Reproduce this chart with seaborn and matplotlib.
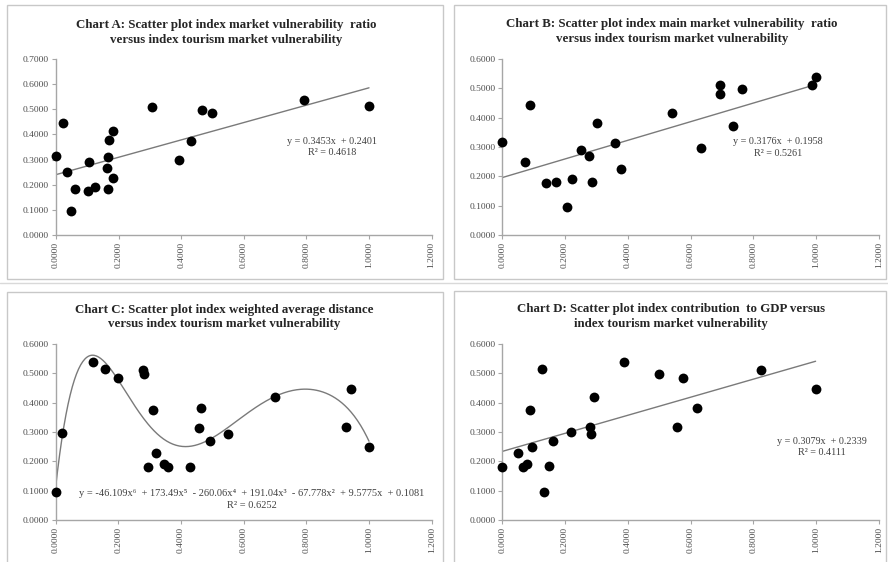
import numpy as np
import pandas as pd
import matplotlib
matplotlib.use("Agg")
import matplotlib.pyplot as plt
import seaborn as sns
from matplotlib.patches import Rectangle

# Values (x = panel index, y = tourism market vulnerability)
a_x = [0.000, 0.021, 0.036, 0.047, 0.062, 0.101, 0.106, 0.126, 0.162, 0.167, 0.167,
       0.170, 0.183, 0.181, 0.307, 0.392, 0.430, 0.467, 0.499, 0.792, 1.000]
a_y = [0.316, 0.444, 0.252, 0.094, 0.183, 0.176, 0.290, 0.190, 0.268, 0.182, 0.312,
       0.379, 0.415, 0.228, 0.511, 0.297, 0.373, 0.496, 0.484, 0.536, 0.513]

b_x = [0.000, 0.072, 0.087, 0.139, 0.171, 0.205, 0.222, 0.250, 0.276, 0.285, 0.301,
       0.359, 0.379, 0.539, 0.633, 0.693, 0.695, 0.734, 0.763, 0.986, 0.998]
b_y = [0.316, 0.250, 0.443, 0.178, 0.181, 0.095, 0.190, 0.291, 0.269, 0.182, 0.381,
       0.313, 0.226, 0.417, 0.298, 0.510, 0.481, 0.373, 0.497, 0.513, 0.539]

c_x = [0.000, 0.020, 0.119, 0.158, 0.200, 0.280, 0.283, 0.310, 0.294, 0.320, 0.347,
       0.358, 0.429, 0.463, 0.458, 0.493, 0.549, 0.700, 0.943, 0.928, 1.000]
c_y = [0.097, 0.298, 0.539, 0.514, 0.483, 0.511, 0.497, 0.374, 0.182, 0.227, 0.191,
       0.182, 0.181, 0.381, 0.315, 0.270, 0.292, 0.419, 0.445, 0.317, 0.250]

d_x = [0.000, 0.051, 0.067, 0.078, 0.087, 0.094, 0.125, 0.133, 0.149, 0.161, 0.219,
       0.279, 0.282, 0.291, 0.388, 0.500, 0.557, 0.575, 0.621, 0.825, 0.998]
d_y = [0.182, 0.227, 0.181, 0.192, 0.374, 0.250, 0.514, 0.097, 0.183, 0.269, 0.299,
       0.316, 0.292, 0.418, 0.539, 0.497, 0.317, 0.483, 0.383, 0.513, 0.445]

# trendline coefficients as printed on the charts (highest power first)
a_coef = [0.3453, 0.2401]
b_coef = [0.3176, 0.1958]
c_coef = [-46.109, 173.49, -260.06, 191.04, -67.778, 9.5775, 0.1081]
d_coef = [0.3079, 0.2339]

a_eq = "y = 0.3453x  + 0.2401\nR² = 0.4618"
b_eq = "y = 0.3176x  + 0.1958\nR² = 0.5261"
c_eq = ("y = -46.109x⁶  + 173.49x⁵  - 260.06x⁴  + 191.04x³  - 67.778x²  + 9.5775x  + 0.1081\n"
        "R² = 0.6252")
d_eq = "y = 0.3079x  + 0.2339\nR² = 0.4111"

titles = [
    "Chart A: Scatter plot index market vulnerability  ratio\nversus index tourism market vulnerability",
    "Chart B: Scatter plot index main market vulnerability  ratio\nversus index tourism market vulnerability",
    "Chart C: Scatter plot index weighted average distance\nversus index tourism market vulnerability",
    "Chart D: Scatter plot index contribution  to GDP versus\nindex tourism market vulnerability",
]

sns.set_style("white")
serif = ["Liberation Serif", "DejaVu Serif"]
plt.rcParams["font.family"] = serif

W, H = 888, 562
fig = plt.figure(figsize=(W / 100, H / 100), dpi=100)


def fx(px):
    return px / W


def fy(py):
    return 1 - py / H


# chart area borders and separator line
for x0, y0, x1, y1 in [(7, 5, 443, 279), (454, 5, 886, 279), (7, 292, 443, 575), (454, 291, 886, 575)]:
    fig.patches.append(Rectangle((fx(x0), fy(y1)), fx(x1 - x0), (y1 - y0) / H,
                                 transform=fig.transFigure, fill=False,
                                 edgecolor="#c8c8c8", linewidth=1.0))
fig.add_artist(plt.Line2D([0, 1], [fy(283), fy(283)], transform=fig.transFigure,
                          color="#d9d9d9", linewidth=1.0))

# plot areas in pixels: (x at 0, x at 1.2, y at 0, y at top)
panels = [
    (a_x, a_y, a_coef, a_eq, 0.7, (56, 431.6, 235, 59), (0.881, 0.35), (226, 32.5), 7.3),
    (b_x, b_y, b_coef, b_eq, 0.6, (502.3, 879, 235, 59), (0.879, 0.297), (672, 31.5), 7.3),
    (c_x, c_y, c_coef, c_eq, 0.6, (55.5, 431.7, 520, 344), (0.626, 0.070), (224, 317), 7.5),
    (d_x, d_y, d_coef, d_eq, 0.6, (502.3, 879, 520, 344), (1.019, 0.249), (671, 316.5), 7.3),
]

for i, (xs, ys, coef, eq, ymax, box, eqpos, tpos, eqsize) in enumerate(panels):
    l, r, b, t = box
    ax = fig.add_axes([fx(l), fy(b), fx(r - l), (b - t) / H])
    df = pd.DataFrame({"x": xs, "y": ys})
    sns.scatterplot(data=df, x="x", y="y", ax=ax, color="black", s=50,
                    edgecolor="black", linewidth=0, clip_on=False, zorder=3)
    grid = np.linspace(min(xs), max(xs), 300)
    ax.plot(grid, np.polyval(coef, grid), color="#7a7a7a", linewidth=1.0, zorder=2)

    ax.set_xlim(0, 1.2)
    ax.set_ylim(0, ymax)
    ax.set_xticks(np.arange(0, 1.21, 0.2))
    ax.set_yticks(np.arange(0, ymax + 0.001, 0.1))
    ax.set_xticklabels([f"{v:.4f}" for v in np.arange(0, 1.21, 0.2)], rotation=90)
    ax.set_yticklabels([f"{v:.4f}" for v in np.arange(0, ymax + 0.001, 0.1)])
    ax.tick_params(axis="both", labelsize=6.8, colors="#4d4d4d", length=3,
                   width=0.8, direction="out", pad=2, bottom=True, left=True)
    ax.tick_params(axis="both", color="#a6a6a6")
    ax.set_xlabel("")
    ax.set_ylabel("")
    for side in ["top", "right"]:
        ax.spines[side].set_visible(False)
    for side in ["left", "bottom"]:
        ax.spines[side].set_color("#a6a6a6")
        ax.spines[side].set_linewidth(1.0)

    ax.text(eqpos[0], eqpos[1], eq, ha="center", va="center", fontsize=eqsize,
            color="#404040", linespacing=1.4, family=serif)
    fig.text(fx(tpos[0]), fy(tpos[1]), titles[i], ha="center", va="center",
             fontsize=9.3, fontweight="bold", color="#262626", linespacing=1.32,
             family=serif)

fig.savefig("out.png", dpi=100)
